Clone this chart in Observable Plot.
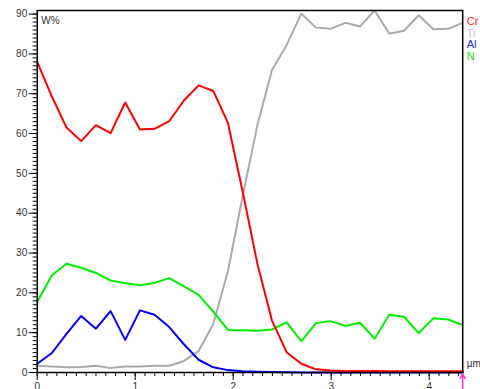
<!DOCTYPE html>
<html><head><meta charset="utf-8">
<script src="https://cdn.jsdelivr.net/npm/d3@7"></script>
<script src="https://cdn.jsdelivr.net/npm/@observablehq/plot@0.6"></script>
<style>
html,body{margin:0;padding:0;background:#fff;overflow:hidden}
#chart svg{display:block}
</style>
</head><body><div id="chart"></div>
<script>
// Depth positions (µm)
const depth = [0.000,0.150,0.299,0.449,0.599,0.749,0.898,1.048,1.198,1.347,1.497,1.647,1.797,1.946,2.096,2.246,2.395,2.545,2.695,2.845,2.994,3.144,3.294,3.443,3.593,3.743,3.893,4.042,4.192,4.342];
// Concentrations W%
const cr = [78.0,69.3,61.5,58.1,62.1,60.1,67.8,61.0,61.2,63.1,68.3,72.1,70.7,62.7,45.5,27.4,13.1,5.1,2.2,0.8,0.5,0.4,0.4,0.35,0.3,0.3,0.3,0.3,0.3,0.3];
const ti = [1.7,1.5,1.3,1.4,1.7,1.1,1.5,1.5,1.7,1.7,2.9,5.4,12.2,25.4,44.2,62.0,75.9,82.2,90.1,86.6,86.3,87.8,86.9,90.9,85.1,85.8,89.7,86.2,86.3,87.8];
const al = [2.2,4.9,9.7,14.2,11.0,15.4,8.2,15.6,14.5,11.4,7.1,3.2,1.3,0.6,0.3,0.2,0.1,0.05,0,0,0,0,0,0,0,0,0,0,0,0];
const n  = [17.7,24.4,27.3,26.3,25.0,23.1,22.4,21.9,22.5,23.7,21.6,19.5,15.3,10.7,10.6,10.5,10.8,12.6,7.9,12.4,12.9,11.7,12.5,8.5,14.5,14.0,9.9,13.6,13.3,11.9];

const seriesNames = ["Cr","Ti","Al","N"];
const seriesValues = [cr, ti, al, n];
const lineColors = ["#ff0000","#aaaaaa","#0000ff","#00ee00"];
const legendColors = ["#ff2020","#c4c4c4","#2020ff","#10e010"];

const yMajor = [0,10,20,30,40,50,60,70,80,90];
const yMinor = d3.range(0, 91, 1);
const xMajor = [0,1,2,3,4];
const xMinor = d3.range(0, 44, 1).map(d => d / 10);
const cursorDepth = [4.342];

const rows = [];
seriesNames.forEach((s, k) => depth.forEach((x, i) => rows.push({series: s, x, y: seriesValues[k][i]})));
const drawOrder = ["Ti","Al","N","Cr"];
const colorMap = Object.fromEntries(seriesNames.map((s,k)=>[s,lineColors[k]]));

const legendMarks = seriesNames.map((s, k) =>
  Plot.text([s], {frameAnchor: "top-right", textAnchor: "start", dx: 4, dy: 6.5 + k * 11.7,
    fill: legendColors[k], fontSize: 11})
);

const chart = Plot.plot({
  width: 480, height: 389,
  marginLeft: 36.7, marginRight: 17.8, marginTop: 10, marginBottom: 17,
  x: {domain: [0, 4.342], axis: null},
  y: {domain: [0, 90.9], axis: null},
  style: {fontFamily: "'Liberation Sans', Arial, sans-serif", fontSize: "10px", background: "white", overflow: "visible"},
  marks: [
    ...drawOrder.map(s => Plot.line(rows.filter(r => r.series === s), {x: "x", y: "y", stroke: colorMap[s], strokeWidth: 2})),
    Plot.axisY(yMinor, {tickSize: 4, tickFormat: () => "", label: null, stroke: "#000"}),
    Plot.axisY(yMajor, {tickSize: 8, tickPadding: 2, label: null, stroke: "#000", fill: "#333", fontSize: 10}),
    Plot.axisX(xMinor, {tickSize: 4, tickFormat: () => "", label: null, stroke: "#000"}),
    Plot.axisX(xMajor, {tickSize: 8, tickPadding: 2, label: null, stroke: "#000", fill: "#333", fontSize: 10}),
    Plot.frame({stroke: "#000", strokeWidth: 1.5}),
    Plot.text(["W%"], {frameAnchor: "top-left", textAnchor: "start", dx: 4, dy: 6.5, fill: "#333", fontSize: 10}),
    Plot.text(["µm"], {frameAnchor: "bottom-right", textAnchor: "start", dx: 4, dy: -6, fill: "#333", fontSize: 10}),
    Plot.arrow(cursorDepth, {x1: d => d, x2: d => d, y1: -4.4, y2: -0.4, stroke: "#ff33cc", strokeWidth: 1.5, headLength: 5, clip: false}),
    ...legendMarks
  ]
});
document.getElementById("chart").append(chart);
</script>
</body></html>
